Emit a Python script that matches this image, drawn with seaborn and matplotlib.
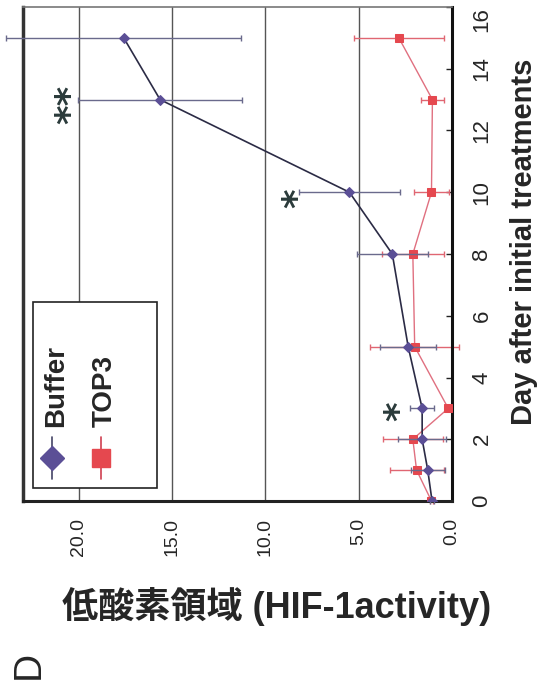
import numpy as np
import pandas as pd
import matplotlib
matplotlib.use("Agg")
import matplotlib.pyplot as plt
import seaborn as sns

# days after initial treatment
days = [0, 1, 2, 3, 5, 8, 10, 13, 15]
# HIF-1 activity (hypoxic area)
buffer_vals = [1.07, 1.3, 1.6, 1.6, 2.35, 3.2, 5.5, 15.65, 17.6]
buffer_err = [0.1, 0.9, 1.3, 0.65, 1.5, 1.9, 2.7, 4.4, 6.3]
top3_vals = [1.1, 1.9, 2.1, 0.2, 2.0, 2.1, 1.1, 1.05, 2.85]
top3_err = [0.1, 1.45, 1.6, 0.1, 2.4, 1.65, 0.95, 0.6, 2.4]

value_ticks = [0, 5, 10, 15, 20]
value_ticklabels = ["0.0", "5.0", "10.0", "15.0", "20.0"]
day_ticks = [0, 2, 4, 6, 8, 10, 12, 14, 16]

# significance marks: (value, day, text)
stars = [(20.4, 12.85, "**"), (8.25, 9.8, "*"), (2.8, 2.9, "*")]

sns.set_style("white")
plt.rcParams['font.family'] = ['Liberation Sans', 'Noto Sans CJK JP', 'DejaVu Sans']

df = pd.DataFrame({
    "day": days * 2,
    "value": buffer_vals + top3_vals,
    "group": ["Buffer"] * len(days) + ["TOP3"] * len(days),
})

fig = plt.figure(figsize=(5.41, 6.88), dpi=100)
ax = fig.add_axes([23 / 541, 1 - 501 / 688, 429 / 541, 494 / 688])

# chart is drawn rotated: value runs horizontally (inverted), day runs upward
for v in value_ticks[1:]:
    ax.axvline(v, color="#555555", lw=1.0, zorder=1)

red = "#e5484f"
purple = "#5b4f96"

ax.errorbar(top3_vals, days, xerr=top3_err, fmt="none", ecolor="#e06672",
            elinewidth=1.0, capsize=2.5, capthick=1.0, zorder=2, clip_on=False)
sns.lineplot(data=df[df.group == "TOP3"], x="value", y="day", orient="y",
             color="#e07080", lw=1.0, marker="s", markersize=6,
             markerfacecolor=red, markeredgecolor=red, ax=ax, zorder=3)

ax.errorbar(buffer_vals, days, xerr=buffer_err, fmt="none", ecolor="#6a6a8c",
            elinewidth=1.0, capsize=2.5, capthick=1.0, zorder=4, clip_on=False)
sns.lineplot(data=df[df.group == "Buffer"], x="value", y="day", orient="y",
             color="#2b2b45", lw=1.2, marker="D", markersize=5.5,
             markerfacecolor=purple, markeredgecolor=purple, ax=ax, zorder=5)

for v, d, s in stars:
    ax.text(v, d, s, rotation=90, ha="center", va="center", fontsize=27,
            fontweight="bold", color="#2a3a3a", family="DejaVu Sans")

ax.set_xlim(23, 0)
ax.set_ylim(0, 16)
ax.set_xticks(value_ticks)
ax.set_xticklabels(value_ticklabels, rotation=90, fontsize=14)
ax.tick_params(axis="x", length=0, pad=12)
ax.yaxis.tick_right()
ax.set_yticks(day_ticks)
ax.set_yticklabels([str(d) for d in day_ticks], rotation=90, fontsize=16,
                   va="center")
ax.get_yticklabels()[-1].set_va("top")
ax.tick_params(axis="y", direction="in", length=4, width=1, pad=14,
               right=True, left=False, color="#222222")

ax.set_xlabel("低酸素領域 (HIF-1activity)", fontsize=26, fontweight="bold",
              va="center")
ax.xaxis.set_label_coords(0.592, -0.2126)
ax.yaxis.set_label_position("right")
ax.set_ylabel("Day after initial treatments", fontsize=21, fontweight="bold",
              rotation=90, va="center")
ax.yaxis.set_label_coords(1.168, 0.524)

for side, lw, col in [("left", 2.5, "#333333"), ("right", 2.2, "#111111"),
                      ("bottom", 2.2, "#222222"), ("top", 1.2, "#777777")]:
    ax.spines[side].set_linewidth(lw)
    ax.spines[side].set_color(col)
    ax.spines[side].set_visible(True)

# legend drawn rotated, in axes fraction
tr = ax.transAxes
ax.add_patch(plt.Rectangle((0.023, 0.026), 0.289, 0.377, transform=tr,
                           facecolor="white", edgecolor="#222222", lw=1.2,
                           zorder=6))
ax.plot([0.068, 0.068], [0.045, 0.13], transform=tr, color="#444466",
        lw=1.2, zorder=7)
ax.plot([0.068], [0.087], transform=tr, marker="D", markersize=12,
        color=purple, zorder=8)
ax.plot([0.182, 0.182], [0.045, 0.13], transform=tr, color="#d04050",
        lw=1.2, zorder=7)
ax.plot([0.182], [0.087], transform=tr, marker="s", markersize=13,
        color=red, zorder=8)
ax.text(0.078, 0.15, "Buffer", transform=tr, rotation=90, ha="center",
        va="bottom", fontsize=20, fontweight="bold", zorder=8)
ax.text(0.19, 0.15, "TOP3", transform=tr, rotation=90, ha="center",
        va="bottom", fontsize=20, fontweight="bold", zorder=8)

fig.text(29 / 541, 1 - 665 / 688, "D", rotation=90, ha="center", va="center",
         fontsize=28)

fig.savefig("out.png", dpi=100)
